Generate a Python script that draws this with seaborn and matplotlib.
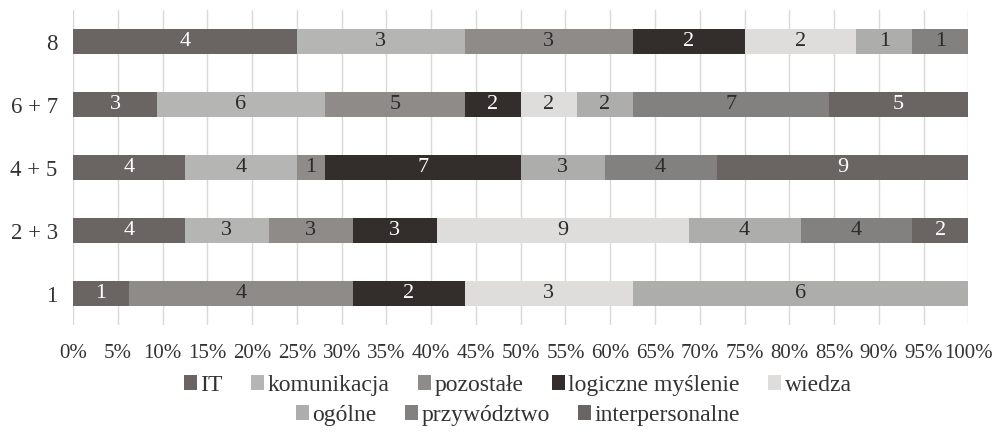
import numpy as np
import pandas as pd
import matplotlib
matplotlib.use("Agg")
import matplotlib.pyplot as plt
import seaborn as sns
from matplotlib.patches import Patch

categories = ["8", "6 + 7", "4 + 5", "2 + 3", "1"]
series = ["IT", "komunikacja", "pozostałe", "logiczne myślenie", "wiedza",
          "ogólne", "przywództwo", "interpersonalne"]
it_vals = [4, 3, 4, 4, 1]
komunikacja_vals = [3, 6, 4, 3, 0]
pozostale_vals = [3, 5, 1, 3, 4]
logiczne_vals = [2, 2, 7, 3, 2]
wiedza_vals = [2, 2, 0, 9, 3]
ogolne_vals = [1, 2, 3, 4, 6]
przywodztwo_vals = [1, 7, 4, 4, 0]
interpersonalne_vals = [0, 5, 9, 2, 0]
tick_labels = [f"{v}%" for v in range(0, 101, 5)]

colors = ["#6a6562", "#b5b5b3", "#8f8b88", "#332e2b", "#dedddb",
          "#adadab", "#838080", "#6a6562"]
label_colors = ["white", "#2b2b2b", "#2b2b2b", "white", "#2b2b2b",
                "#2b2b2b", "#2b2b2b", "white"]

sns.set_theme(style="white")
plt.rcParams["font.family"] = ["Liberation Serif", "DejaVu Serif"]

vals = np.array([it_vals, komunikacja_vals, pozostale_vals, logiczne_vals,
                 wiedza_vals, ogolne_vals, przywodztwo_vals, interpersonalne_vals], dtype=float)
totals = vals.sum(axis=0)
pct = vals / totals * 100
cum = np.cumsum(pct, axis=0)

fig = plt.figure(figsize=(9.96, 4.41), dpi=100)
ax = fig.add_axes([0.0733, 0.263, 0.899, 0.714])

for i in range(len(series) - 1, -1, -1):
    df = pd.DataFrame({"cat": categories, "x": cum[i]})
    sns.barplot(data=df, x="x", y="cat", orient="h", color=colors[i],
                width=0.4, ax=ax, saturation=1, edgecolor="none", linewidth=0)

for i in range(len(series)):
    for j, c in enumerate(categories):
        if vals[i, j] > 0:
            center = cum[i, j] - pct[i, j] / 2
            ax.text(center, j, str(int(vals[i, j])), ha="center", va="center",
                    fontsize=16, color=label_colors[i])

ax.set_xlim(0, 100)
ax.set_ylim(4.5, -0.5)
ax.set_xticks(np.arange(0, 101, 5))
ax.set_xticklabels(tick_labels, fontsize=15, color="#333333")
ax.tick_params(axis="y", labelsize=16.5, colors="#333333", length=0, pad=11)
ax.tick_params(axis="x", length=0, pad=14)
ax.set_xlabel("")
ax.set_ylabel("")
ax.grid(axis="x", color="#d9d9d9", linewidth=1)
ax.set_axisbelow(True)
for s in ax.spines.values():
    s.set_visible(False)

handles = [Patch(facecolor=colors[i], edgecolor="none", label=series[i]) for i in range(8)]
leg_kw = dict(loc="center", frameon=False, fontsize=17, handlelength=0.55, handleheight=0.55,
              handletextpad=0.15, columnspacing=1.2, labelcolor="#333333")
leg1 = fig.legend(handles=handles[:5], bbox_to_anchor=(0.52, 0.126), ncol=5, **leg_kw)
leg2 = fig.legend(handles=handles[5:], bbox_to_anchor=(0.52, 0.058), ncol=3, **leg_kw)

fig.savefig("out.png", dpi=100)
